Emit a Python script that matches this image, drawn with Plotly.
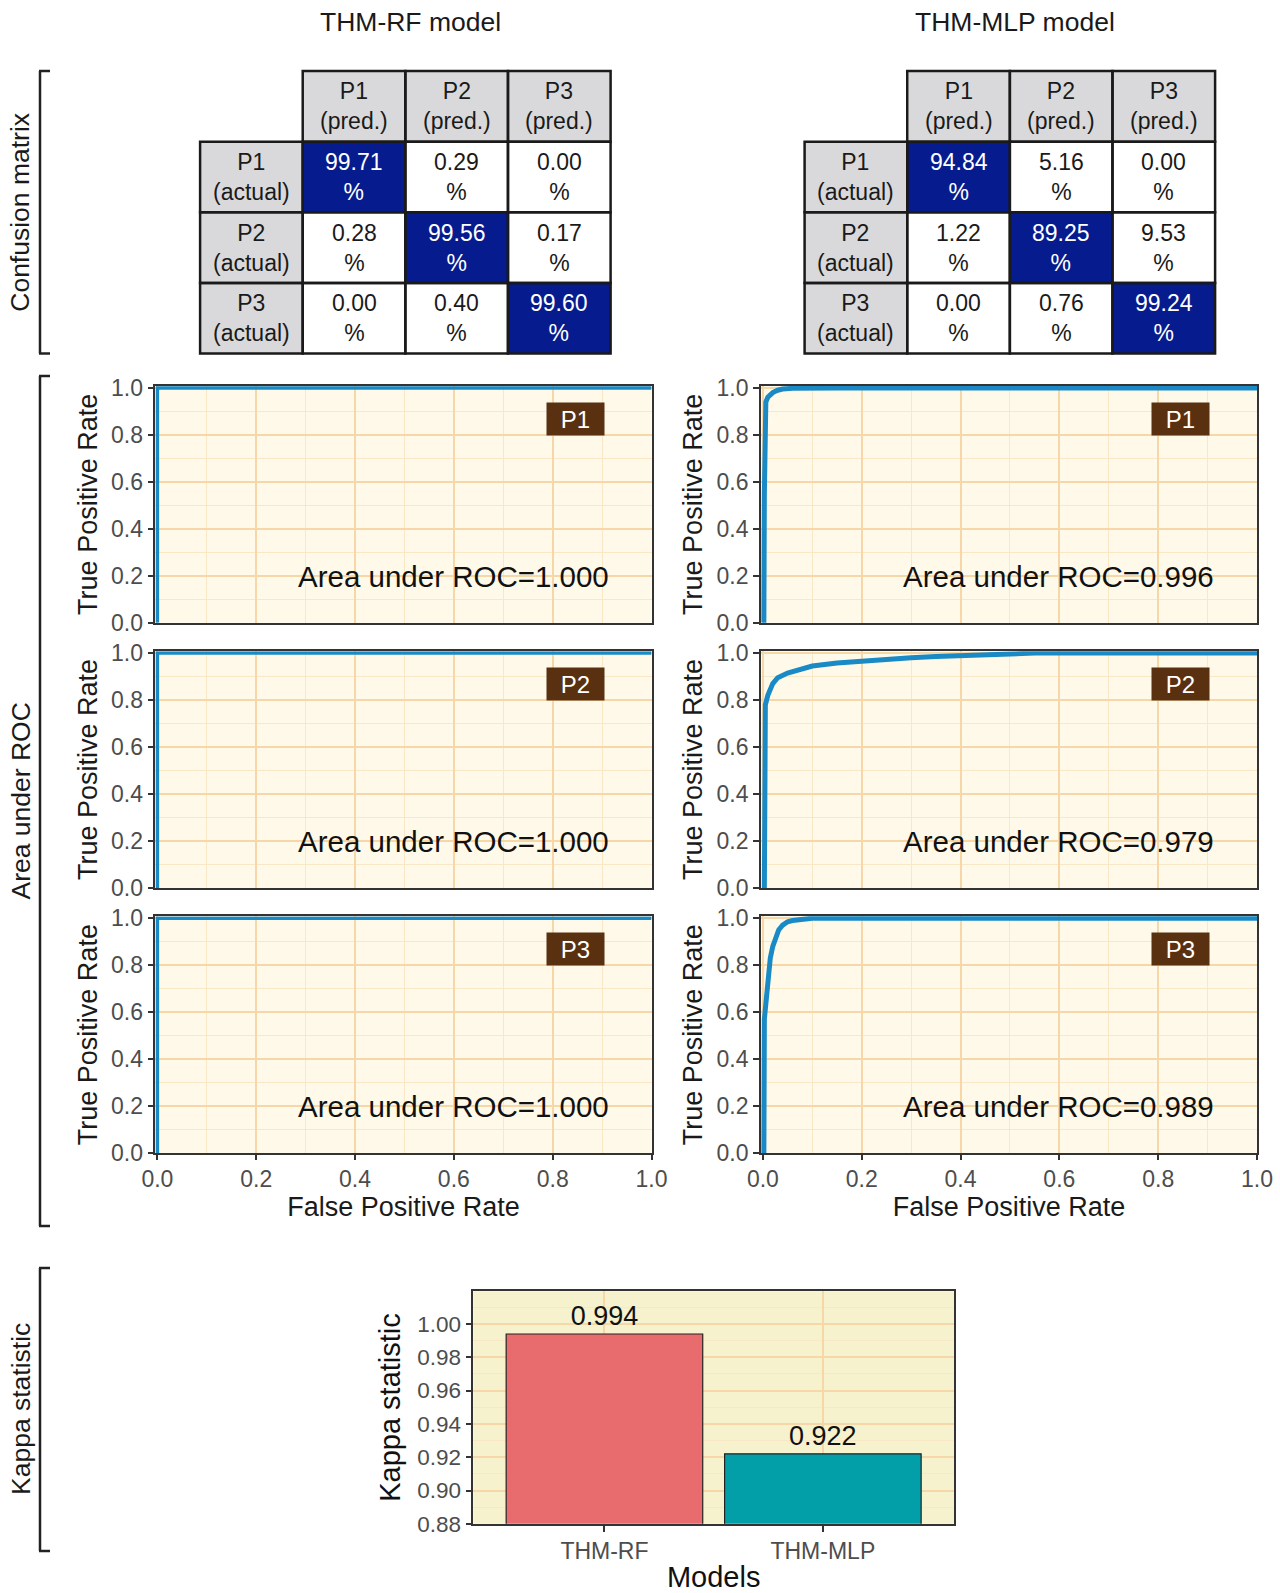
import plotly.graph_objects as go

# ---------------- data ----------------
models = ["THM-RF", "THM-MLP"]
model_titles = ["THM-RF model", "THM-MLP model"]
classes = ["P1", "P2", "P3"]

rf_cm = [[99.71, 0.29, 0.00],
         [0.28, 99.56, 0.17],
         [0.00, 0.40, 99.60]]
mlp_cm = [[94.84, 5.16, 0.00],
          [1.22, 89.25, 9.53],
          [0.00, 0.76, 99.24]]

rf_auc = [1.000, 1.000, 1.000]
mlp_auc = [0.996, 0.979, 0.989]

# ROC curves (false positive rate, true positive rate)
rf_p1_fpr = [0.0, 0.0, 1.0]
rf_p1_tpr = [0.0, 1.0, 1.0]
rf_p2_fpr = [0.0, 0.0, 1.0]
rf_p2_tpr = [0.0, 1.0, 1.0]
rf_p3_fpr = [0.0, 0.0, 1.0]
rf_p3_tpr = [0.0, 1.0, 1.0]

mlp_p1_fpr = [0.0, 0.002, 0.003, 0.004, 0.006, 0.010, 0.015, 0.020, 0.030, 0.040, 0.060, 0.100, 0.150, 1.0]
mlp_p1_tpr = [0.0, 0.0, 0.55, 0.90, 0.94, 0.960, 0.970, 0.980, 0.990, 0.995, 0.998, 0.999, 1.000, 1.0]

mlp_p2_fpr = [0.0, 0.003, 0.005, 0.010, 0.020, 0.030, 0.050, 0.080, 0.100, 0.150, 0.200, 0.250, 0.300, 0.350, 0.400, 0.450, 0.500, 0.550, 1.0]
mlp_p2_tpr = [0.0, 0.0, 0.78, 0.82, 0.87, 0.895, 0.915, 0.935, 0.945, 0.958, 0.967, 0.974, 0.980, 0.985, 0.990, 0.995, 0.998, 1.000, 1.0]

mlp_p3_fpr = [0.0, 0.002, 0.003, 0.005, 0.007, 0.009, 0.012, 0.015, 0.020, 0.026, 0.032, 0.040, 0.050, 0.060, 0.080, 0.100, 1.0]
mlp_p3_tpr = [0.0, 0.0, 0.57, 0.62, 0.66, 0.72, 0.78, 0.83, 0.88, 0.92, 0.95, 0.97, 0.985, 0.990, 0.995, 1.000, 1.0]

kappa = [0.994, 0.922]

section_labels = ["Confusion matrix", "Area under ROC", "Kappa statistic"]

# ---------------- styling ----------------
W, H = 1280, 1593
FONT = "Liberation Sans, Arial, sans-serif"
TICK_GREY = "#4D4D4D"
NAVY = "#061C8E"
HEAD_GREY = "#D9D9DB"
CURVE = "#1A8AC6"
ROC_BG = "#FFF9E9"
KAPPA_BG = "#F6F2CD"
GRID_MAJ = "#F6D8A8"
GRID_MIN = "#FAE7C6"
BOX_BROWN = "#5A3110"
BAR_COLORS = ["#E86C6E", "#029FA9"]


def px(x):
    return x / W


def py(y):
    return 1 - y / H


fig = go.Figure()
layout = dict(
    width=W, height=H, margin=dict(l=0, r=0, t=0, b=0, pad=0, autoexpand=False),
    paper_bgcolor="white", plot_bgcolor="rgba(0,0,0,0)",
    showlegend=False, font=dict(family=FONT, color="#1A1A1A"),
)
shapes = []
annotations = []

# ---------------- confusion matrices ----------------
cm_x_px = [(200.1, 610.6), (804.6, 1215.1)]
cm_y_px = (71.1, 353.5)
pad = 0.03
for m, cm in enumerate([rf_cm, mlp_cm]):
    ax = m + 1
    xa = "x" if ax == 1 else f"x{ax}"
    ya = "y" if ax == 1 else f"y{ax}"
    n = len(classes) + 1
    z = [[None] * n for _ in range(n)]
    for i in range(n):
        for j in range(n):
            if i == 0 and j == 0:
                continue
            if i == 0 or j == 0:
                z[i][j] = 1
            elif i == j:
                z[i][j] = 3
            else:
                z[i][j] = 2
    fig.add_trace(go.Heatmap(
        z=z, x=list(range(n)), y=list(range(n)), zmin=1, zmax=3,
        colorscale=[[0, HEAD_GREY], [0.33, HEAD_GREY], [0.34, "white"], [0.66, "white"],
                    [0.67, NAVY], [1, NAVY]],
        showscale=False, hoverinfo="skip", xaxis=xa, yaxis=ya))
    x0p, x1p = cm_x_px[m]
    cw = (x1p - x0p) / n
    ch = (cm_y_px[1] - cm_y_px[0]) / n
    layout[("xaxis" if ax == 1 else f"xaxis{ax}")] = dict(
        domain=[px(x0p - pad * cw), px(x1p + pad * cw)], range=[-0.5 - pad, n - 0.5 + pad],
        visible=False, anchor=ya, automargin=False)
    layout[("yaxis" if ax == 1 else f"yaxis{ax}")] = dict(
        domain=[py(cm_y_px[1] + pad * ch), py(cm_y_px[0] - pad * ch)], range=[n - 0.5 + pad, -0.5 - pad],
        visible=False, anchor=xa, automargin=False)
    for i in range(n):
        for j in range(n):
            if i == 0 and j == 0:
                continue
            shapes.append(dict(type="rect", xref=xa, yref=ya, x0=j - 0.5, x1=j + 0.5,
                               y0=i - 0.5, y1=i + 0.5, line=dict(color="#1A1A1A", width=2.5)))
            if i == 0:
                txt = f"{classes[j-1]}<br>(pred.)"
                col = "#1A1A1A"
            elif j == 0:
                txt = f"{classes[i-1]}<br>(actual)"
                col = "#1A1A1A"
            else:
                txt = f"{cm[i-1][j-1]:.2f}<br>%"
                col = "white" if i == j else "#1A1A1A"
            annotations.append(dict(xref=xa, yref=ya, x=j, y=i, text=txt, showarrow=False,
                                    xanchor="center", yanchor="middle",
                                    font=dict(size=23, color=col, family=FONT)))
    # model title
    annotations.append(dict(xref="paper", yref="paper", x=px([410.4, 1014.9][m]), y=py(22.4),
                            xanchor="center", yanchor="middle",
                            text=model_titles[m], showarrow=False,
                            font=dict(size=26.5, color="#1A1A1A", family=FONT)))

# ---------------- ROC panels ----------------
roc_x_px = [(155.4, 651.5), (760.9, 1257.0)]
roc_y_px = [(386.0, 622.7), (651.2, 887.9), (916.3, 1153.0)]
roc_data = [
    [(rf_p1_fpr, rf_p1_tpr), (rf_p2_fpr, rf_p2_tpr), (rf_p3_fpr, rf_p3_tpr)],
    [(mlp_p1_fpr, mlp_p1_tpr), (mlp_p2_fpr, mlp_p2_tpr), (mlp_p3_fpr, mlp_p3_tpr)],
]
aucs = [rf_auc, mlp_auc]
for r in range(3):
    for c in range(2):
        k = 3 + r * 2 + c
        xa, ya = f"x{k}", f"y{k}"
        fpr, tpr = roc_data[c][r]
        fig.add_trace(go.Scatter(x=fpr, y=tpr, mode="lines",
                                 line=dict(color=CURVE, width=3.5 if c == 0 else 5),
                                 hoverinfo="skip", xaxis=xa, yaxis=ya))
        bottom = (r == 2)
        layout[f"xaxis{k}"] = dict(
            domain=[px(roc_x_px[c][0]), px(roc_x_px[c][1])], range=[-0.004, 1.0], anchor=ya,
            automargin=False,
            dtick=0.2, tick0=0, tickformat=".1f", showticklabels=bottom,
            ticks="outside" if bottom else "", ticklen=5, tickwidth=1.5, tickcolor="#333",
            tickfont=dict(size=23, color=TICK_GREY, family=FONT),
            showline=True, mirror=True, linecolor="#333", linewidth=1.5,
            showgrid=True, gridcolor=GRID_MAJ, gridwidth=2, zeroline=False,
            minor=dict(dtick=0.1, tick0=0, showgrid=True, gridcolor=GRID_MIN, gridwidth=1),
            title=dict(text="False Positive Rate" if bottom else "", standoff=6,
                       font=dict(size=27, color="#1A1A1A", family=FONT)),
        )
        layout[f"yaxis{k}"] = dict(
            domain=[py(roc_y_px[r][1]), py(roc_y_px[r][0])], range=[0, 1.008], anchor=xa,
            automargin=False,
            dtick=0.2, tick0=0, tickformat=".1f",
            ticks="outside", ticklen=6, tickwidth=1.5, tickcolor="#333",
            tickfont=dict(size=23, color=TICK_GREY, family=FONT),
            showline=True, mirror=True, linecolor="#333", linewidth=1.5,
            showgrid=True, gridcolor=GRID_MAJ, gridwidth=2, zeroline=False,
            minor=dict(dtick=0.1, tick0=0, showgrid=True, gridcolor=GRID_MIN, gridwidth=1),
            title=dict(text="True Positive Rate", standoff=6,
                       font=dict(size=27, color="#1A1A1A", family=FONT)),
        )
        shapes.append(dict(type="rect", xref=f"{xa} domain", yref=f"{ya} domain",
                           x0=0, x1=1, y0=0, y1=1, layer="below",
                           fillcolor=ROC_BG, line=dict(width=0)))
        annotations.append(dict(xref=xa, yref=ya, x=0.846, y=0.869, text=classes[r],
                                xanchor="center", yanchor="middle",
                                showarrow=False, width=55, height=30, bgcolor=BOX_BROWN,
                                font=dict(size=24, color="white", family=FONT)))
        annotations.append(dict(xref=xa, yref=ya, x=0.599, y=0.197,
                                xanchor="center", yanchor="middle",
                                text=f"Area under ROC={aucs[c][r]:.3f}", showarrow=False,
                                font=dict(size=29.5, color="#111", family=FONT)))

# ---------------- Kappa bar chart ----------------
fig.add_trace(go.Bar(
    x=models, y=kappa, marker=dict(color=BAR_COLORS, line=dict(color="#222", width=1.2)),
    width=0.9, text=[f"{v:.3f}" for v in kappa], textposition="outside",
    textfont=dict(size=27, color="#111", family=FONT), cliponaxis=False,
    hoverinfo="skip", xaxis="x9", yaxis="y9"))
layout["xaxis9"] = dict(
    domain=[px(473.4), px(953.9)], range=[-0.6, 1.6], anchor="y9", type="category",
    automargin=False,
    ticks="outside", ticklen=6, tickwidth=1.5, tickcolor="#333",
    tickfont=dict(size=23, color=TICK_GREY, family=FONT),
    showline=True, mirror=True, linecolor="#333", linewidth=1.5,
    showgrid=True, gridcolor=GRID_MAJ, gridwidth=2,
    title=dict(text="Models", standoff=4, font=dict(size=29, color="#111", family=FONT)),
)
layout["yaxis9"] = dict(
    domain=[py(1523.8), py(1291.2)], range=[0.88, 1.0197], anchor="x9",
    automargin=False,
    dtick=0.02, tick0=0.88, tickformat=".2f",
    ticks="outside", ticklen=6, tickwidth=1.5, tickcolor="#333",
    tickfont=dict(size=22.5, color=TICK_GREY, family=FONT),
    showline=True, mirror=True, linecolor="#333", linewidth=1.5,
    showgrid=True, gridcolor=GRID_MAJ, gridwidth=2, zeroline=False,
    minor=dict(dtick=0.01, tick0=0.88, showgrid=True, gridcolor=GRID_MIN, gridwidth=1),
    title=dict(text="Kappa statistic", standoff=8, font=dict(size=29, color="#111", family=FONT)),
)
shapes.append(dict(type="rect", xref="x9 domain", yref="y9 domain", x0=0, x1=1, y0=0, y1=1,
                   layer="below", fillcolor=KAPPA_BG, line=dict(width=0)))

# ---------------- section brackets ----------------
brackets = [(71.0, 353.5), (376.0, 1226.0), (1268.0, 1551.0)]
bx = 40.0
for (y0, y1), lab in zip(brackets, section_labels):
    shapes.append(dict(type="line", xref="paper", yref="paper", x0=px(bx), x1=px(bx),
                       y0=py(y0), y1=py(y1), line=dict(color="#222", width=2.5)))
    for yy in (y0, y1):
        shapes.append(dict(type="line", xref="paper", yref="paper", x0=px(bx - 1), x1=px(bx + 10),
                           y0=py(yy), y1=py(yy), line=dict(color="#222", width=2.5)))
    annotations.append(dict(xref="paper", yref="paper", x=px(20.5), y=py((y0 + y1) / 2),
                            xanchor="center", yanchor="middle",
                            text=lab, textangle=-90, showarrow=False,
                            font=dict(size=26.5, color="#1A1A1A", family=FONT)))

layout["shapes"] = shapes
layout["annotations"] = annotations
fig.update_layout(**layout)
fig.write_html("out.html", config={"displayModeBar": False},
               post_script="document.body.style.margin='0px';document.body.style.overflow='hidden';")
